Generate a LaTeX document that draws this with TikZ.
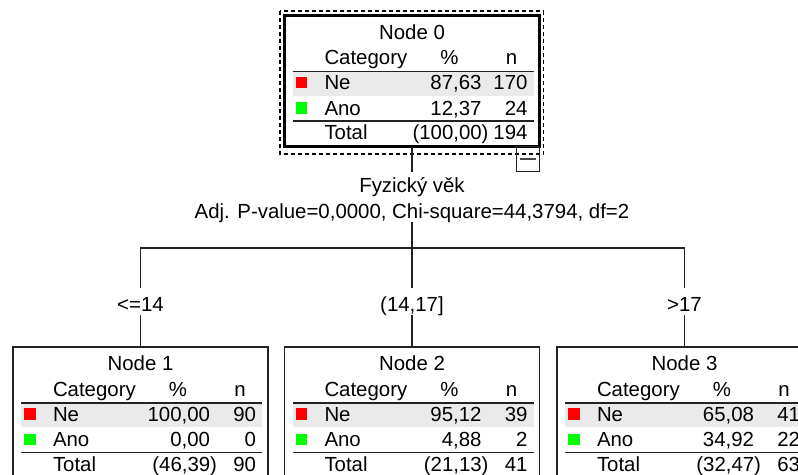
\documentclass[tikz,border=0pt]{standalone}
\usepackage{fontspec}
\setmainfont{Liberation Sans}
\usetikzlibrary{calc}
\definecolor{nered}{RGB}{255,0,0}
\definecolor{anogreen}{RGB}{0,255,0}
\definecolor{rowgray}{RGB}{234,234,234}
\definecolor{linegray}{RGB}{34,34,34}
\definecolor{mgray}{RGB}{70,70,70}
\tikzset{
  txt/.style={inner sep=0pt, outer sep=0pt, font=\fontsize{20.4}{24}\selectfont, text=black},
  rootbox/.style={draw=black, line width=3pt, minimum width=255pt, minimum height=131pt, inner sep=0pt, outer sep=0pt, anchor=north west},
  childbox/.style={draw=linegray, line width=1.3pt, minimum width=255pt, minimum height=131pt, inner sep=0pt, outer sep=0pt, anchor=north west},
  catsq/.style={minimum size=11.5pt, inner sep=0pt, outer sep=0pt},
  hdrline/.style={draw=linegray, line width=1.8pt},
  totline/.style={draw=linegray, line width=1.3pt},
  conn/.style={draw=linegray, line width=1.3pt},
  splittxt/.style={txt, anchor=base, text depth=4pt},
  brlabel/.style={txt, anchor=base, text height=23pt, text depth=4pt},
  selbox/.style={draw=black, line width=1.3pt, dash pattern=on 4pt off 3pt},
  minusbox/.style={draw=linegray, line width=1pt, minimum width=23pt, minimum height=25pt, inner sep=0pt, outer sep=0pt, anchor=north east}
}
\newcommand\tabcontents[8]{%
  \begin{scope}[shift={(#1.north west)}]
    \fill[rowgray] (8,56) rectangle (249,80);
    \draw[hdrline] (8,56) -- (249,56);
    \draw[totline] (8,105.5) -- (249,105.5);
    \node[txt, anchor=base] (#1-title) at (127.5,23.5) {#2};
    \node[txt, anchor=base west] (#1-cat) at (40,49) {Category};
    \node[txt, anchor=base] (#1-pct) at (165,49) {\%};
    \node[txt, anchor=base] (#1-n) at (227,49) {n};
    \node[catsq, fill=nered] (#1-sqne) at (17,67) {};
    \node[txt, anchor=base west] (#1-ne) at (40,74) {Ne};
    \node[txt, anchor=base east] (#1-nep) at (197,74) {#3};
    \node[txt, anchor=base east] (#1-nen) at (243,74) {#4};
    \node[catsq, fill=anogreen] (#1-sqano) at (17,92.5) {};
    \node[txt, anchor=base west] (#1-ano) at (40,99.5) {Ano};
    \node[txt, anchor=base east] (#1-anop) at (197,99.5) {#5};
    \node[txt, anchor=base east] (#1-anon) at (243,99.5) {#6};
    \node[txt, anchor=base west] (#1-tot) at (40,124) {Total};
    \node[txt, anchor=base east] (#1-totp) at (204,124) {#7};
    \node[txt, anchor=base east] (#1-totn) at (243,124) {#8};
  \end{scope}}
\begin{document}
\begin{tikzpicture}[x=1pt, y=-1pt]
  \useasboundingbox (0,0) rectangle (798,474);
  \clip (0,0) rectangle (798,474);
  \fill[white] (0,0) rectangle (798,474);

  % root node
  \node[rootbox] (n0) at (284.5,15.5) {};
  \tabcontents{n0}{Node 0}{87,63}{170}{12,37}{24}{(100,00)}{194}
  \draw[selbox] (280,11) rectangle (543.5,154);
  \node[minusbox] (mbox) at (539.5,146.5) {\textcolor{mgray}{\rule{16pt}{2.2pt}}};

  % children
  \node[childbox] (n1) at (13,347) {};
  \tabcontents{n1}{Node 1}{100,00}{90}{0,00}{0}{(46,39)}{90}
  \node[childbox] (n2) at (284.5,347) {};
  \tabcontents{n2}{Node 2}{95,12}{39}{4,88}{2}{(21,13)}{41}
  \node[childbox] (n3) at (557,347) {};
  \tabcontents{n3}{Node 3}{65,08}{41}{34,92}{22}{(32,47)}{63}

  % split text
  \node[splittxt, text height=20pt] (split1) at (412,192) {Fyzický věk};
  \node[splittxt, text height=14pt] (split2) at (412,218) {Adj. P-value=0,0000, Chi-square=44,3794, df=2};
  \coordinate (bar) at (412,248);

  % branch labels
  \node[brlabel] (lab1) at (140.5,311) {<=14};
  \node[brlabel] (lab2) at (412,311) {(14,17]};
  \node[brlabel] (lab3) at (684.5,311) {>17};

  % connectors
  \draw[conn] (n0.south) -- (split1.north);
  \draw[conn] (split2.south) -- (bar);
  \draw[conn] (lab1.north) |- (bar) -| (lab3.north);
  \draw[conn] (bar) -- (lab2.north);
  \draw[conn] (lab1.south) -- (n1.north);
  \draw[conn] (lab2.south) -- (n2.north);
  \draw[conn] (lab3.south) -- (n3.north);
\end{tikzpicture}
\end{document}
